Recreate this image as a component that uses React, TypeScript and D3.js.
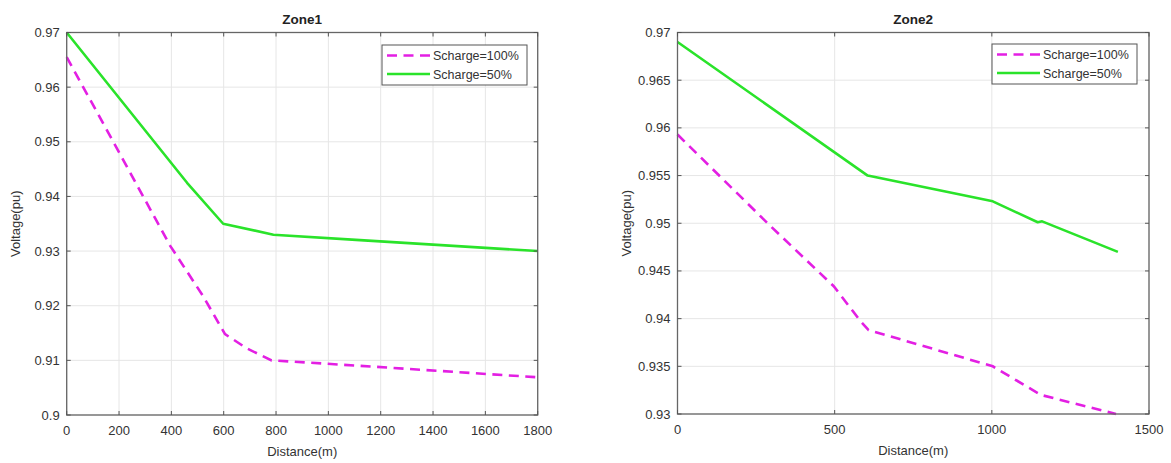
import React from "react";
import * as d3 from "d3";

// Zone1 readings
const zone1Dist100 = [0, 201, 395, 522, 605, 688, 783, 1121, 1477, 1800];
const zone1V100 = [0.9655, 0.948, 0.931, 0.9217, 0.9148, 0.9122, 0.91, 0.909, 0.9079, 0.9069];
const zone1Dist50 = [0, 460, 598, 790, 1121, 1800];
const zone1V50 = [0.97, 0.9425, 0.935, 0.933, 0.932, 0.93];

// Zone2 readings
const zone2Dist100 = [0, 296, 497, 583, 608, 1003, 1156, 1395];
const zone2V100 = [0.9593, 0.9497, 0.9434, 0.9397, 0.9388, 0.935, 0.932, 0.93];
const zone2Dist50 = [0, 605, 1003, 1146, 1160, 1401];
const zone2V50 = [0.969, 0.955, 0.9523, 0.9501, 0.9502, 0.947];

const zone1XTicks = [0, 200, 400, 600, 800, 1000, 1200, 1400, 1600, 1800];
const zone1YTicks = [0.9, 0.91, 0.92, 0.93, 0.94, 0.95, 0.96, 0.97];
const zone2XTicks = [0, 500, 1000, 1500];
const zone2YTicks = [0.93, 0.935, 0.94, 0.945, 0.95, 0.955, 0.96, 0.965, 0.97];

const seriesNames = ["Scharge=100%", "Scharge=50%"];

const MAGENTA = "#e31fe3";
const GREEN = "#2ae32a";
const FONT = "Liberation Sans, Arial, sans-serif";

type PanelProps = {
  title: string;
  x0: number; x1: number; y0: number; y1: number;
  xDomain: [number, number]; yDomain: [number, number];
  xTicks: number[]; yTicks: number[];
  d100: number[]; v100: number[]; d50: number[]; v50: number[];
  legend: { x: number; y: number; w: number; h: number };
};

function Panel(p: PanelProps) {
  const x = d3.scaleLinear().domain(p.xDomain).range([p.x0, p.x1]);
  const y = d3.scaleLinear().domain(p.yDomain).range([p.y1, p.y0]);
  const line = d3.line<[number, number]>().x(d => x(d[0])).y(d => y(d[1]));
  const pts100 = p.d100.map((d, i) => [d, p.v100[i]] as [number, number]);
  const pts50 = p.d50.map((d, i) => [d, p.v50[i]] as [number, number]);
  const fmt = (v: number) => String(+v.toFixed(3));
  const cx = (p.x0 + p.x1) / 2;
  const cy = (p.y0 + p.y1) / 2;
  const lg = p.legend;
  const row1 = lg.y + 10.5;
  const row2 = lg.y + 29;
  return (
    <g fontFamily={FONT}>
      <rect x={p.x0} y={p.y0} width={p.x1 - p.x0} height={p.y1 - p.y0} fill="#fff" />
      {p.xTicks.map(t => (
        <line key={"gx" + t} x1={x(t)} x2={x(t)} y1={p.y0} y2={p.y1} stroke="#e6e6e6" strokeWidth={1} />
      ))}
      {p.yTicks.map(t => (
        <line key={"gy" + t} x1={p.x0} x2={p.x1} y1={y(t)} y2={y(t)} stroke="#e6e6e6" strokeWidth={1} />
      ))}
      <path d={line(pts50) || ""} fill="none" stroke={GREEN} strokeWidth={2.6} strokeLinejoin="round" />
      <path d={line(pts100) || ""} fill="none" stroke={MAGENTA} strokeWidth={2.6} strokeDasharray="10,6.5" />
      <rect x={p.x0} y={p.y0} width={p.x1 - p.x0} height={p.y1 - p.y0} fill="none" stroke="#666" strokeWidth={1.3} />
      {p.xTicks.map(t => (
        <g key={"tx" + t}>
          <line x1={x(t)} x2={x(t)} y1={p.y1} y2={p.y1 - 4} stroke="#555" />
          <line x1={x(t)} x2={x(t)} y1={p.y0} y2={p.y0 + 4} stroke="#555" />
          <text x={x(t)} y={p.y1 + 20} textAnchor="middle" fontSize={13} fill="#333">{fmt(t)}</text>
        </g>
      ))}
      {p.yTicks.map(t => (
        <g key={"ty" + t}>
          <line x1={p.x0} x2={p.x0 + 4} y1={y(t)} y2={y(t)} stroke="#555" />
          <line x1={p.x1} x2={p.x1 - 4} y1={y(t)} y2={y(t)} stroke="#555" />
          <text x={p.x0 - 7} y={y(t) + 4.5} textAnchor="end" fontSize={13} fill="#333">{fmt(t)}</text>
        </g>
      ))}
      <text x={cx} y={p.y0 - 9} textAnchor="middle" fontSize={13.5} fontWeight="bold" fill="#222">{p.title}</text>
      <text x={cx} y={p.y1 + 41} textAnchor="middle" fontSize={13} fill="#333">Distance(m)</text>
      <text transform={`translate(${p.x0 - 47},${cy}) rotate(-90)`} textAnchor="middle" fontSize={13} fill="#333">Voltage(pu)</text>
      <rect x={lg.x} y={lg.y} width={lg.w} height={lg.h} fill="#fff" stroke="#555" strokeWidth={1} />
      <line x1={lg.x + 5} x2={lg.x + 48} y1={row1} y2={row1} stroke={MAGENTA} strokeWidth={2.6} strokeDasharray="10,6.5" />
      <line x1={lg.x + 5} x2={lg.x + 48} y1={row2} y2={row2} stroke={GREEN} strokeWidth={2.6} />
      {seriesNames.map((s, i) => (
        <text key={s} x={lg.x + 51} y={(i === 0 ? row1 : row2) + 4.5} fontSize={12.5} fill="#333">{s}</text>
      ))}
    </g>
  );
}

export default function App() {
  return (
    <svg width={1171} height={463} style={{ position: "absolute", left: 0, top: 0, background: "#fff" }}>
      <rect width={1171} height={463} fill="#fff" />
      <Panel
        title="Zone1"
        x0={66.7} x1={537.7} y0={32.5} y1={415}
        xDomain={[0, 1800]} yDomain={[0.9, 0.97]}
        xTicks={zone1XTicks} yTicks={zone1YTicks}
        d100={zone1Dist100} v100={zone1V100} d50={zone1Dist50} v50={zone1V50}
        legend={{ x: 382, y: 45, w: 145, h: 40 }}
      />
      <Panel
        title="Zone2"
        x0={677.5} x1={1149} y0={32.5} y1={414}
        xDomain={[0, 1500]} yDomain={[0.93, 0.97]}
        xTicks={zone2XTicks} yTicks={zone2YTicks}
        d100={zone2Dist100} v100={zone2V100} d50={zone2Dist50} v50={zone2V50}
        legend={{ x: 992, y: 44, w: 145, h: 40 }}
      />
    </svg>
  );
}
